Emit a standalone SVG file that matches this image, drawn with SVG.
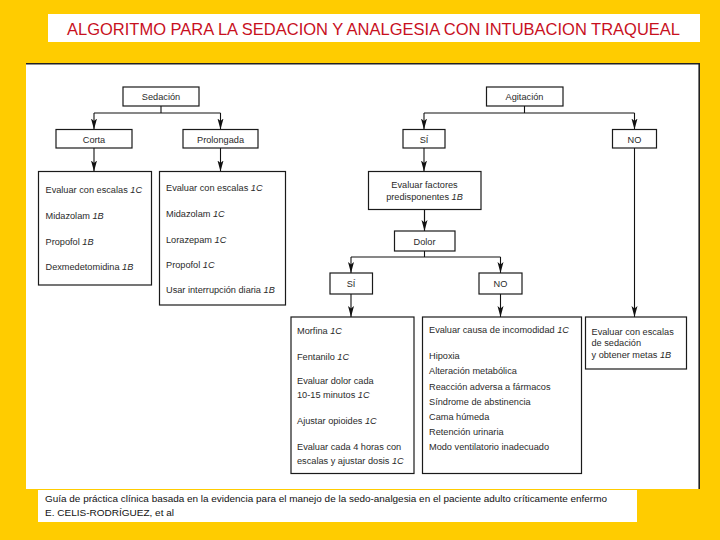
<svg xmlns="http://www.w3.org/2000/svg" width="720" height="540" viewBox="0 0 720 540">
<defs>
<style>
.bx{fill:#fff;stroke:#1a1a1a;stroke-width:1.2}
.t{font-family:"Liberation Sans",Arial,sans-serif;font-size:9.2px;fill:#2a2a2a}
.c{text-anchor:middle}
.i{font-style:italic}
.ln{fill:none;stroke:#111;stroke-width:1.1}
.ar{fill:none;stroke:#111;stroke-width:1.1;marker-end:url(#ah)}
</style>
<marker id="ah" markerUnits="userSpaceOnUse" viewBox="0 0 11 8" markerWidth="11" markerHeight="8" refX="11" refY="4" orient="auto">
<path d="M0,1 L11,4 L0,7 L2.5,4 z" fill="#111"/>
</marker>
</defs>
<rect x="0" y="0" width="720" height="540" fill="#FFCC00"/>
<g id="title">
<rect x="48" y="14" width="652" height="28" fill="#fff"/>
<text x="67" y="34.5" textLength="613" lengthAdjust="spacingAndGlyphs" style="font-family:'Liberation Sans',Arial,sans-serif;font-size:17px;fill:#C8101E">ALGORITMO PARA LA SEDACION Y ANALGESIA CON INTUBACION TRAQUEAL</text>
</g>
<g id="panel">
<rect x="26" y="63" width="674" height="426" fill="#fff"/>
<path d="M26,63.8 H699.2 V489" fill="none" stroke="#222" stroke-width="1.6"/>
</g>
<g id="connectors">
<path class="ln" d="M161,106 V113 M94,113 H220.5 M524.5,106 V113 M424,113 H634.5 M424.5,209.5 V231 M424.5,251 V257 M351,257 H500.5"/>
<path class="ar" d="M94,113 V129.5"/>
<path class="ar" d="M220.5,113 V129.5"/>
<path class="ar" d="M94,148 V171.5"/>
<path class="ar" d="M220.5,148 V171.5"/>
<path class="ar" d="M424,113 V129.5"/>
<path class="ar" d="M634.5,113 V129.5"/>
<path class="ar" d="M424,148 V171.5"/>
<path class="ar" d="M424.5,209.5 V231"/>
<path class="ar" d="M351,257 V273"/>
<path class="ar" d="M500.5,257 V273"/>
<path class="ar" d="M351,294 V317"/>
<path class="ar" d="M500.5,294 V317"/>
<path class="ar" d="M634.5,148 V317"/>
</g>
<g id="sedacion">
<rect class="bx" x="123" y="87" width="76" height="19"/>
<text class="t c" x="161" y="100">Sedación</text>
</g>
<g id="corta">
<rect class="bx" x="56" y="129.5" width="76" height="18.5"/>
<text class="t c" x="94" y="142.5">Corta</text>
</g>
<g id="prolongada">
<rect class="bx" x="183" y="129.5" width="75" height="18.5"/>
<text class="t c" x="220.5" y="142.5">Prolongada</text>
</g>
<g id="corta-detalle">
<rect class="bx" x="38.5" y="171.5" width="113" height="113.5"/>
<text class="t" x="45.5" y="192.5">Evaluar con escalas <tspan class="i">1C</tspan></text>
<text class="t" x="45.5" y="218.5">Midazolam <tspan class="i">1B</tspan></text>
<text class="t" x="45.5" y="244.5">Propofol <tspan class="i">1B</tspan></text>
<text class="t" x="45.5" y="269.5">Dexmedetomidina <tspan class="i">1B</tspan></text>
</g>
<g id="prolongada-detalle">
<rect class="bx" x="159.5" y="171.5" width="126" height="133.5"/>
<text class="t" x="166" y="190.5">Evaluar con escalas <tspan class="i">1C</tspan></text>
<text class="t" x="166" y="216.5">Midazolam <tspan class="i">1C</tspan></text>
<text class="t" x="166" y="242.5">Lorazepam <tspan class="i">1C</tspan></text>
<text class="t" x="166" y="267.5">Propofol <tspan class="i">1C</tspan></text>
<text class="t" x="166" y="293">Usar interrupción diaria <tspan class="i">1B</tspan></text>
</g>
<g id="agitacion">
<rect class="bx" x="486.5" y="87" width="76.5" height="19"/>
<text class="t c" x="524.5" y="100">Agitación</text>
</g>
<g id="si-agitacion">
<rect class="bx" x="403" y="129.5" width="42" height="18.5"/>
<text class="t c" x="424" y="142.5">SÍ</text>
</g>
<g id="no-agitacion">
<rect class="bx" x="612.5" y="129.5" width="44" height="18.5"/>
<text class="t c" x="634.5" y="142.5">NO</text>
</g>
<g id="factores">
<rect class="bx" x="368.5" y="171.5" width="112.5" height="38"/>
<text class="t c" x="424.5" y="187.5">Evaluar factores</text>
<text class="t c" x="424.5" y="200">predisponentes <tspan class="i">1B</tspan></text>
</g>
<g id="dolor">
<rect class="bx" x="394.5" y="231" width="60.5" height="20"/>
<text class="t c" x="424.5" y="244.5">Dolor</text>
</g>
<g id="si-dolor">
<rect class="bx" x="330" y="273" width="42.5" height="21"/>
<text class="t c" x="351" y="287">SÍ</text>
</g>
<g id="no-dolor">
<rect class="bx" x="479" y="273" width="43" height="21"/>
<text class="t c" x="500.5" y="287">NO</text>
</g>
<g id="analgesia">
<rect class="bx" x="291" y="317" width="123" height="156.5"/>
<text class="t" x="297" y="333.5">Morfina <tspan class="i">1C</tspan></text>
<text class="t" x="297" y="359.5">Fentanilo <tspan class="i">1C</tspan></text>
<text class="t" x="297" y="384">Evaluar dolor cada</text>
<text class="t" x="297" y="398">10-15 minutos <tspan class="i">1C</tspan></text>
<text class="t" x="297" y="424">Ajustar opioides <tspan class="i">1C</tspan></text>
<text class="t" x="297" y="450">Evaluar cada 4 horas con</text>
<text class="t" x="297" y="463.5">escalas y ajustar dosis <tspan class="i">1C</tspan></text>
</g>
<g id="causas">
<rect class="bx" x="422.5" y="317" width="159" height="156.5"/>
<text class="t" x="429" y="332.5">Evaluar causa de incomodidad <tspan class="i">1C</tspan></text>
<text class="t" x="429" y="358.5">Hipoxia</text>
<text class="t" x="429" y="374">Alteración metabólica</text>
<text class="t" x="429" y="389.5">Reacción adversa a fármacos</text>
<text class="t" x="429" y="404.5">Síndrome de abstinencia</text>
<text class="t" x="429" y="420">Cama húmeda</text>
<text class="t" x="429" y="435">Retención urinaria</text>
<text class="t" x="429" y="450">Modo ventilatorio inadecuado</text>
</g>
<g id="escalas-sedacion">
<rect class="bx" x="585.5" y="317" width="101" height="52"/>
<text class="t" x="591.5" y="334.5">Evaluar con escalas</text>
<text class="t" x="591.5" y="346">de sedación</text>
<text class="t" x="591.5" y="357.5">y obtener metas <tspan class="i">1B</tspan></text>
</g>
<g id="footer">
<rect x="38" y="490" width="599" height="32" fill="#fff"/>
<text x="45" y="501.5" textLength="562" lengthAdjust="spacingAndGlyphs" style="font-family:'Liberation Sans',Arial,sans-serif;font-size:9px;fill:#111">Guía de práctica clínica basada en la evidencia para el manejo de la sedo-analgesia en el paciente adulto críticamente enfermo</text>
<text x="45" y="515.5" textLength="129" lengthAdjust="spacingAndGlyphs" style="font-family:'Liberation Sans',Arial,sans-serif;font-size:9px;fill:#111">E. CELIS-RODRÍGUEZ, et al</text>
</g>
</svg>
